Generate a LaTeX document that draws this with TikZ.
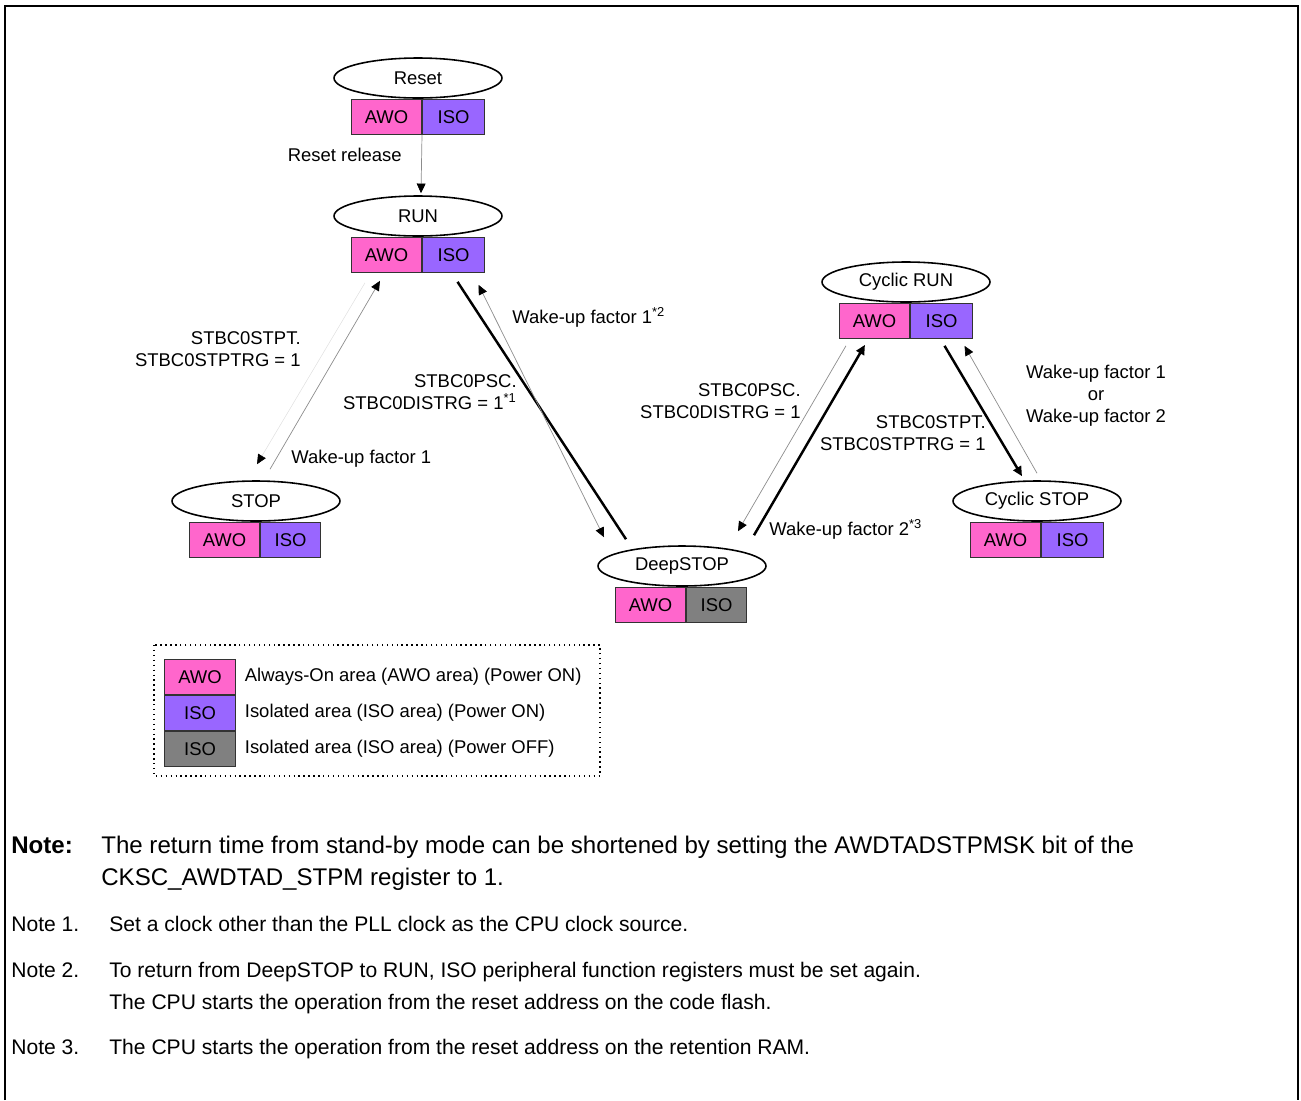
\documentclass[tikz,border=0pt]{standalone}
\usepackage{fontspec}
\setmainfont{Liberation Sans}
\usetikzlibrary{positioning,shapes.geometric,arrows.meta}
\definecolor{awopink}{RGB}{255,102,204}
\definecolor{isopurple}{RGB}{153,102,255}
\definecolor{isogray}{RGB}{128,128,128}

\begin{document}
\begin{tikzpicture}[
            x=0.02cm, y=-0.02cm,
            every node/.style={font=\fontsize{10.5}{12.5}\selectfont},
            state/.style={draw, ellipse, line width=0.9pt, minimum width=3.36cm, minimum height=0.8cm, inner sep=0pt},
            box/.style={draw=black!80, line width=0.6pt, minimum height=0.7cm, inner sep=0pt},
            awo/.style={box, fill=awopink, minimum width=1.4cm},
            ison/.style={box, fill=isopurple, minimum width=1.24cm},
            isoff/.style={box, fill=isogray, minimum width=1.24cm},
            lbl/.style={inner sep=0pt},
            notefont/.style={font=\fontsize{12}{14}\selectfont},
            bignote/.style={font=\fontsize{13.7}{16}\selectfont},
            bignotebold/.style={font=\fontsize{13.7}{16}\selectfont\bfseries},
            light/.style={draw=black!45, line width=0.4pt},
            faint/.style={draw=black!12, line width=0.3pt},
            heavy/.style={draw=black, line width=1.4pt},
            >={Triangle[length=5.5pt,width=5pt,color=black]}
        ]
            \useasboundingbox (0,0) rectangle (1301,1100);
            \draw[line width=1.1pt] (5,1100) -- (5,6) -- (1298,6) -- (1298,1100);

            % States with their power areas
            \node[state] (reset) at (418,78) {Reset};
            \node[awo, anchor=north east] (resetawo) at ([xshift=0.08cm]reset.south) {AWO};
            \node[ison, right=0pt of resetawo] (resetiso) {ISO};

            \node[state] (run) at (418,216) {RUN};
            \node[awo, anchor=north east] (runawo) at ([xshift=0.08cm]run.south) {AWO};
            \node[ison, right=0pt of runawo] (runiso) {ISO};

            \node[state] (cycrun) at (906,282) {Cyclic RUN};
            \node[awo, anchor=north east] (cycrunawo) at ([xshift=0.08cm]cycrun.south) {AWO};
            \node[ison, right=0pt of cycrunawo] (cycruniso) {ISO};

            \node[state] (stop) at (256,501) {STOP};
            \node[awo, anchor=north east] (stopawo) at ([xshift=0.08cm]stop.south) {AWO};
            \node[ison, minimum width=1.2cm, right=0pt of stopawo] (stopiso) {ISO};

            \node[state] (cycstop) at (1037,501) {Cyclic STOP};
            \node[awo, anchor=north east] (cycstopawo) at ([xshift=0.08cm]cycstop.south) {AWO};
            \node[ison, right=0pt of cycstopawo] (cycstopiso) {ISO};

            \node[state] (deepstop) at (682,566) {DeepSTOP};
            \node[awo, anchor=north east] (deepstopawo) at ([xshift=0.08cm]deepstop.south) {AWO};
            \node[isoff, minimum width=1.2cm, right=0pt of deepstopawo] (deepstopiso) {ISO};

            % Transition labels
            \node[lbl, anchor=east] (relabel) at (402,155) {Reset release};
            \node[lbl, anchor=east, align=right] (stoplabel) at (301,349) {STBC0STPT.\\STBC0STPTRG = 1};
            \node[lbl, anchor=west] (stopwake) at (291,459) {Wake-up factor 1};
            \node[lbl, anchor=west] (deepwake) at (512,317) {Wake-up factor 1\textsuperscript{*2}};
            \node[lbl, anchor=east, align=right] (deeplabel) at (517,392) {STBC0PSC.\\STBC0DISTRG = 1\textsuperscript{*1}};
            \node[lbl, anchor=east, align=right] (cycdeeplabel) at (801,401) {STBC0PSC.\\STBC0DISTRG = 1};
            \node[lbl, anchor=west] (cycdeepwake) at (769,529) {Wake-up factor 2\textsuperscript{*3}};
            \node[lbl, anchor=east, align=right] (cycstoplabel) at (986,433) {STBC0STPT.\\STBC0STPTRG = 1};
            \node[lbl, align=center] (cycstopwake) at (1096,396) {Wake-up factor 1\\or\\Wake-up factor 2};

            % Edges
            \draw[light, ->] (resetawo.south east) -- ([xshift=0.06cm,yshift=0.04cm]run.north);
            \draw[light, ->] ([xshift=0.28cm,yshift=0.22cm]stop.north) -- ([xshift=0.58cm,yshift=-0.16cm]runawo.south west);
            \draw[faint, ->] ([xshift=0.28cm,yshift=-0.2cm]runawo.south west) -- ([xshift=0.02cm,yshift=0.32cm]stop.north);
            \draw[heavy] ([xshift=0.08cm,yshift=-0.18cm]runiso.south) -- ([xshift=-1.12cm,yshift=0.12cm]deepstop.north);
            \draw[light, <->] ([xshift=0.5cm,yshift=-0.24cm]runiso.south) -- ([xshift=-1.56cm,yshift=0.16cm]deepstop.north);
            \draw[light, ->] ([xshift=0.14cm,yshift=-0.14cm]cycrunawo.south west) -- ([xshift=1.12cm,yshift=0.28cm]deepstop.north);
            \draw[heavy, ->] ([xshift=1.44cm,yshift=0.2cm]deepstop.north) -- ([xshift=0.52cm,yshift=-0.12cm]cycrunawo.south west);
            \draw[heavy, ->] ([xshift=0.06cm,yshift=-0.14cm]cycruniso.south) -- ([xshift=-0.3cm,yshift=0.08cm]cycstop.north);
            \draw[light, ->] ([yshift=0.14cm]cycstop.north) -- ([xshift=0.46cm,yshift=-0.14cm]cycruniso.south);

            % Legend
            \draw[dotted, line width=0.8pt] (154,645) rectangle (600,776);
            \node[awo, minimum width=1.42cm, anchor=north west] (keyawo) at (164,659) {AWO};
            \node[ison, minimum width=1.42cm, below=0pt of keyawo] (keyison) {ISO};
            \node[isoff, minimum width=1.42cm, below=0pt of keyison] (keyisoff) {ISO};
            \node[lbl, right=0.17cm of keyawo] (keyawotext) {Always-On area (AWO area) (Power ON)};
            \node[lbl, right=0.17cm of keyison] (keyisontext) {Isolated area (ISO area) (Power ON)};
            \node[lbl, right=0.17cm of keyisoff] (keyisofftext) {Isolated area (ISO area) (Power OFF)};

            % Notes
            \node[lbl, anchor=base west, bignotebold] (note) at (11,853) {Note:};
            \node[lbl, anchor=base west, bignote] (notetext) at (101,853) {The return time from stand-by mode can be shortened by setting the AWDTADSTPMSK bit of the};
            \node[lbl, anchor=base west, bignote] (notetextb) at (101,885) {CKSC\_AWDTAD\_STPM register to 1.};
            \node[lbl, anchor=base west, notefont] (note1) at (11,931) {Note 1.};
            \node[lbl, anchor=base west, notefont] (note1text) at (109,931) {Set a clock other than the PLL clock as the CPU clock source.};
            \node[lbl, anchor=base west, notefont] (note2) at (11,977) {Note 2.};
            \node[lbl, anchor=base west, notefont] (note2text) at (109,977) {To return from DeepSTOP to RUN, ISO peripheral function registers must be set again.};
            \node[lbl, anchor=base west, notefont] (note2textb) at (109,1009) {The CPU starts the operation from the reset address on the code flash.};
            \node[lbl, anchor=base west, notefont] (note3) at (11,1054) {Note 3.};
            \node[lbl, anchor=base west, notefont] (note3text) at (109,1054) {The CPU starts the operation from the reset address on the retention RAM.};
        \end{tikzpicture}
\end{document}
